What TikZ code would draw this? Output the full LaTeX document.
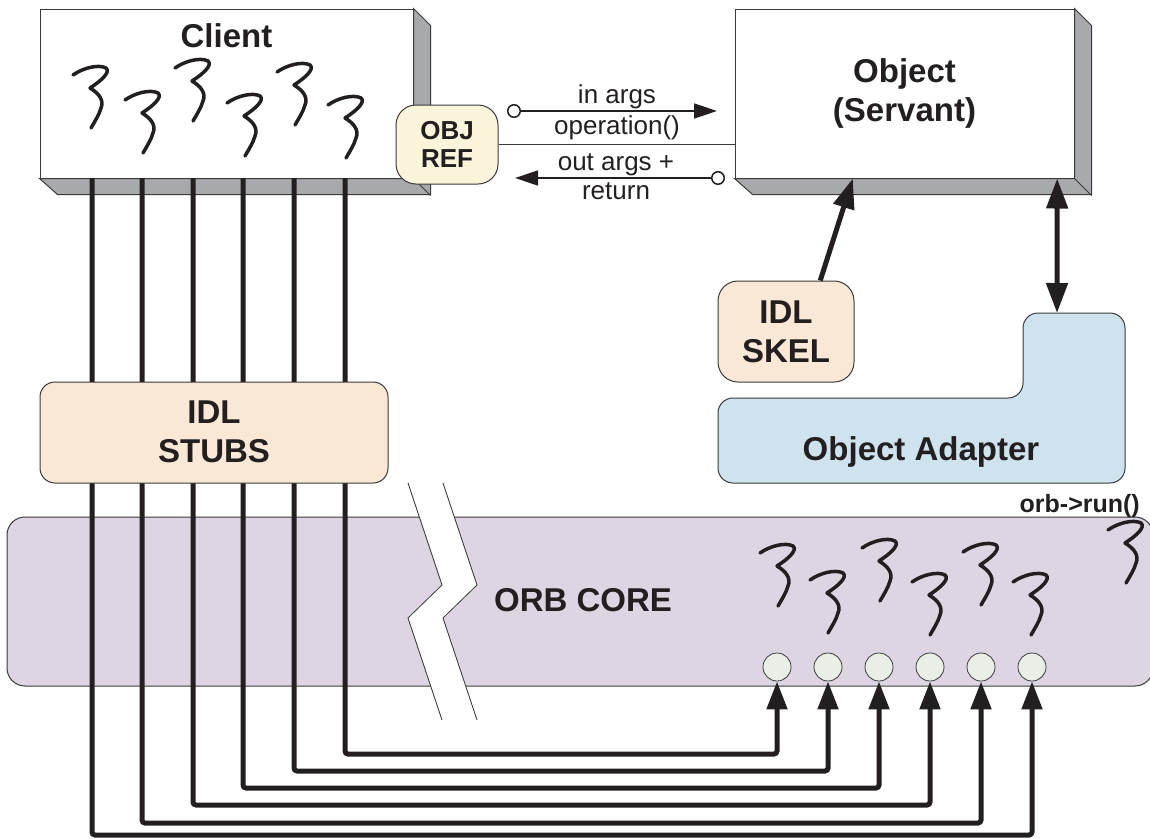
\documentclass[tikz,border=0pt]{standalone}
\usepackage{fontspec}
\setmainfont{Liberation Sans}
\usetikzlibrary{arrows.meta,calc}
\definecolor{ink}{HTML}{231F20}
\definecolor{edge}{HTML}{3A3A3A}
\definecolor{boxgray}{HTML}{A7A9AC}
\definecolor{cream}{HTML}{FAF4DA}
\definecolor{peach}{HTML}{F8E8D5}
\definecolor{adapterblue}{HTML}{CFE3EF}
\definecolor{orbfill}{HTML}{DED5E3}
\definecolor{portfill}{HTML}{E9EFE7}
\tikzset{
  bigtext/.style={font=\fontsize{33}{39}\selectfont\bfseries, align=center, text=ink, inner sep=0},
  smalltext/.style={font=\fontsize{26}{28}\selectfont, align=center, text=ink, inner sep=0},
  boxface/.style={draw=edge, fill=white, line width=1, inner sep=0},
  roundbox/.style={draw=edge, line width=1, inner sep=0},
  portnode/.style={circle, minimum size=28, inner sep=0, draw=edge, fill=portfill, line width=0.8},
  wire/.style={draw=ink, line width=5, rounded corners=3, -{Triangle[length=28pt,width=20pt]}},
  thickarrow/.style={draw=ink, line width=5, -{Triangle[length=30pt,width=21pt]}},
  callarrow/.style={draw=ink, line width=1.5, {Circle[length=14pt,width=14pt,fill=white]}-{Triangle[length=23pt,width=15pt]}},
  thread/.pic={\draw[ink, line width=3.5, line cap=round, line join=round]
    (0,0) .. controls (10,-7) and (25,-11) .. (33,-7)
    .. controls (38,-3) and (28,6) .. (17,13)
    .. controls (27,19) and (31,26) .. (28,33)
    .. controls (26,40) and (22,46) .. (18,53);}
}
\begin{document}
\begin{tikzpicture}[x=1pt,y=-1pt]
\useasboundingbox (0,0) rectangle (1150,838);

% ORB core
\node[roundbox, fill=orbfill, rounded corners=18, minimum width=1146, minimum height=169] (orbcore) at (580,601.5) {};
\fill[white] (408,483) -- (442,585) -- (408,618) -- (442,720) -- (477,720) -- (443,618) -- (477,585) -- (443,483) -- cycle;
\draw[edge, line width=0.8] (408,483) -- (442,585) -- (408,618) -- (442,720);
\draw[edge, line width=0.8] (443,483) -- (477,585) -- (443,618) -- (477,720);
\node[bigtext] (orbtext) at (583,600) {ORB CORE};
\node[font=\fontsize{25}{28}\selectfont\bfseries, text=ink, inner sep=0, anchor=base east] (orbrun) at (1140,512) {orb->run()};
\foreach \x/\y in {760/553, 810/580, 862/548, 912/582, 963/552, 1013/582, 1108/530}
  \pic at (\x,\y) {thread};
\node[portnode] (c1) at (777,667) {};
\node[portnode] (c2) at (828,667) {};
\node[portnode] (c3) at (879,667) {};
\node[portnode] (c4) at (930,667) {};
\node[portnode] (c5) at (981,667) {};
\node[portnode] (c6) at (1032,667) {};

% Client
\node[boxface, minimum width=373, minimum height=169] (client) at (226.5,93.5) {};
\filldraw[fill=boxgray, draw=edge, line width=1] (client.north east) -- ++(17,17) -- ++(0,169) -- ++(-373,0) -- (client.south west) -- (client.south east) -- cycle;
\draw[edge, line width=1] (client.south east) -- ++(17,17);
\node[bigtext, anchor=base] (clientlabel) at (226.5,47) {Client};
\foreach \x/\y in {73/75, 125/100, 175/68, 227/103, 277/72, 328/105}
  \pic at (\x,\y) {thread};

% Object
\node[boxface, minimum width=339, minimum height=169] (object) at (904.5,93.5) {};
\filldraw[fill=boxgray, draw=edge, line width=1] (object.north east) -- ++(17,17) -- ++(0,169) -- ++(-339,0) -- (object.south west) -- (object.south east) -- cycle;
\draw[edge, line width=1] (object.south east) -- ++(17,17);
\node[bigtext] (objectlabel) at (904.5,93.5) {Object\\(Servant)};

% OBJ REF and invocation
\node[roundbox, fill=cream, rounded corners=20, minimum width=102, minimum height=79, font=\fontsize{26}{28.5}\selectfont\bfseries, text=ink, align=center] (objref) at (447,144.5) {OBJ\\REF};
\draw[edge, line width=1] (objref.east) -- (objref.east -| object.west);
\coordinate (ia1) at (507,111);
\coordinate (ia2) at (717,111);
\coordinate (oa1) at (725,178);
\coordinate (oa2) at (515,178);
\draw[callarrow] (ia1) -- (ia2);
\draw[callarrow] (oa1) -- (oa2);
\node[smalltext, anchor=base] (inargs) at (617,103) {in args};
\node[smalltext, anchor=base] (operation) at (617,134) {operation()};
\node[smalltext, anchor=base] (outargs) at (616,170) {out args +};
\node[smalltext, anchor=base] (return) at (616,199) {return};

% wires from client to ORB ports
\coordinate (s1) at (345,178);
\coordinate (s2) at (294,178);
\coordinate (s3) at (243,178);
\coordinate (s4) at (193,178);
\coordinate (s5) at (142,178);
\coordinate (s6) at (92,178);
\coordinate (t1) at (777,754);
\coordinate (t2) at (828,771);
\coordinate (t3) at (879,788);
\coordinate (t4) at (930,805);
\coordinate (t5) at (981,823);
\coordinate (t6) at (1032,835);
\foreach \i in {1,...,6}
  \draw[wire] (s\i) |- (t\i) -- (c\i);

% IDL stubs
\node[roundbox, fill=peach, rounded corners=15, minimum width=348, minimum height=101] (stubs) at (214,432.5) {};
\node[bigtext] (stubslabel) at (214,432) {IDL\\STUBS};

% IDL skeleton and object adapter
\node[roundbox, fill=peach, rounded corners=20, minimum width=136, minimum height=101] (skel) at (786,331.5) {};
\node[bigtext] (skellabel) at (786,332) {IDL\\SKEL};
\draw[draw=edge, fill=adapterblue, line width=1, rounded corners=15] (900,483) -- (718,483) -- (718,398) -- (1023,398) -- (1023,313) -- (1125,313) -- (1125,483) -- cycle;
\node[bigtext, anchor=base] (adapter) at (921,460) {Object Adapter};
\coordinate (adaptertop) at (1057,313);
\draw[thickarrow] ($(skel.north west)!0.75!(skel.north east)$) -- ($(object.south west)!0.348!(object.south east)$);
\draw[thickarrow, {Triangle[length=30pt,width=21pt]}-{Triangle[length=30pt,width=21pt]}] ($(object.south west)!0.949!(object.south east)$) -- (adaptertop);
\end{tikzpicture}
\end{document}
